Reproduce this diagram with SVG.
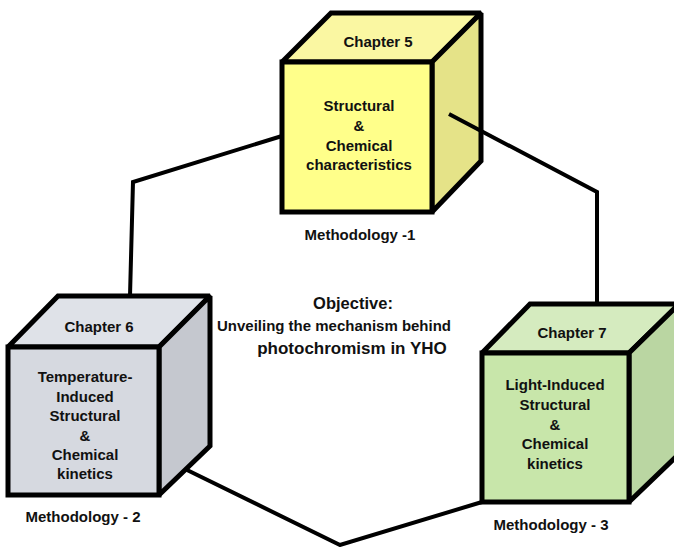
<svg xmlns="http://www.w3.org/2000/svg" width="674" height="547" viewBox="0 0 674 547">
<style>
.edge{stroke:#000;stroke-width:5;stroke-linejoin:miter;stroke-miterlimit:2}
.conn{fill:none;stroke:#000;stroke-width:4;stroke-linejoin:miter}
text{font-family:"Liberation Sans",Arial,sans-serif;font-weight:bold;font-size:15px;fill:#111;text-anchor:middle}
.obj{font-size:16.5px}
</style>
<rect width="674" height="547" fill="#fff"/>
<g id="ch5">
<polygon class="edge" points="282,62 331,13 481,13 432,62" fill="#FAF7A2"/>
<polygon class="edge" points="432,62 481,13 481,161 432,212" fill="#E5E388"/>
<rect class="edge" x="282" y="62" width="150" height="150" fill="#FFFF8A"/>
<text x="378" y="47">Chapter 5</text>
<text x="359" y="111">Structural</text>
<text x="359" y="131">&amp;</text>
<text x="359" y="151">Chemical</text>
<text x="359" y="170">characteristics</text>
<text x="360" y="240">Methodology -1</text>
</g>
<g id="ch6">
<polygon class="edge" points="8,347 58,296 210,296 159,347" fill="#DFE2E8"/>
<polygon class="edge" points="159,347 210,296 210,446 159,495" fill="#C5C8CF"/>
<rect class="edge" x="8" y="347" width="151" height="148" fill="#D6D9E0"/>
<text x="99" y="332">Chapter 6</text>
<text x="85" y="382">Temperature-</text>
<text x="85" y="402">Induced</text>
<text x="85" y="421">Structural</text>
<text x="85" y="441">&amp;</text>
<text x="85" y="460">Chemical</text>
<text x="85" y="479">kinetics</text>
<text x="83" y="522">Methodology - 2</text>
</g>
<g id="ch7">
<polygon class="edge" points="482,353 530,304 679,304 629,353" fill="#D5EBBF"/>
<polygon class="edge" points="629,353 679,304 679,454 629,502" fill="#BAD6A2"/>
<rect class="edge" x="482" y="353" width="147" height="149" fill="#C8E6AA"/>
<text x="572" y="338">Chapter 7</text>
<text x="555" y="390">Light-Induced</text>
<text x="555" y="410">Structural</text>
<text x="555" y="430">&amp;</text>
<text x="555" y="449">Chemical</text>
<text x="555" y="469">kinetics</text>
<text x="551" y="530">Methodology - 3</text>
</g>
<g id="objective">
<text class="obj" x="353" y="309">Objective:</text>
<text class="obj" x="334" y="331" style="font-size:15.5px" textLength="234" lengthAdjust="spacingAndGlyphs">Unveiling the mechanism behind</text>
<text class="obj" x="352" y="354" style="font-size:17px">photochromism in YHO</text>
</g>
<g id="connectors">
<path class="conn" d="M282,136 L133,182 L130,296"/>
<path class="conn" d="M185,469 L340,545 L482,502"/>
<path class="conn" d="M449,114 L597,192 L597,304"/>
</g>
</svg>
